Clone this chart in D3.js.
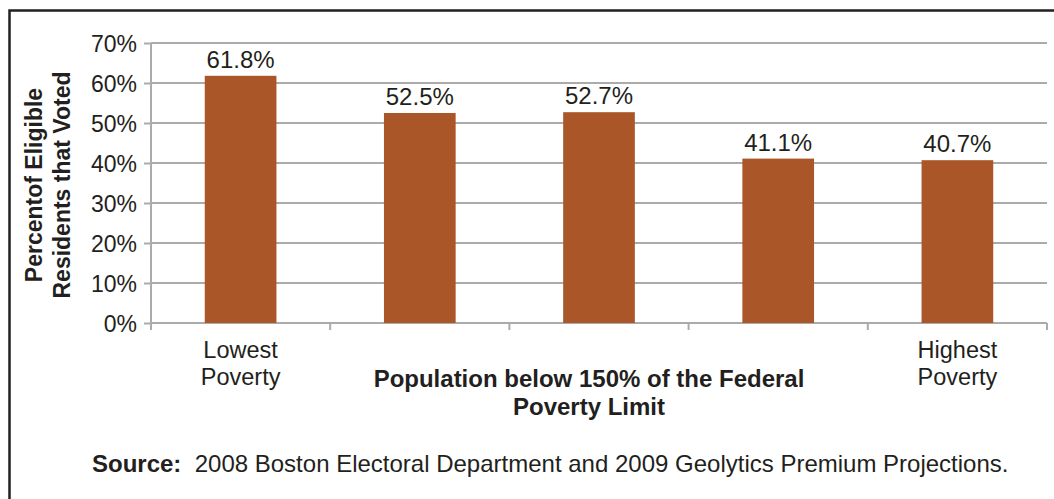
<!DOCTYPE html>
<html><head><meta charset="utf-8">
<script src="https://cdn.jsdelivr.net/npm/d3@7"></script>
<style>body{margin:0;background:#fff}svg{display:block}text{font-family:"Liberation Sans",Arial,sans-serif;fill:#231f20}</style>
</head><body>
<svg id="c" width="1054" height="499"></svg>
<script>
const categories = ["Lowest Poverty", "Q2", "Q3", "Q4", "Highest Poverty"];
const categoryLabels = [["Lowest","Poverty"], [], [], [], ["Highest","Poverty"]];
const values = [61.8, 52.5, 52.7, 41.1, 40.7];
const yTicks = [0, 10, 20, 30, 40, 50, 60, 70];
const yTitle = ["Percentof Eligible", "Residents that Voted"];
const xTitle = ["Population below 150% of the Federal", "Poverty Limit"];
const sourceBold = "Source:";
const sourceText = "2008 Boston Electoral Department and 2009 Geolytics Premium Projections.";

const svg = d3.select("#c");
const pLeft = 151, pRight = 1047, pTop = 43, pBottom = 323;
const x = d3.scaleBand().domain(categories).range([pLeft, pRight]).paddingInner(0.6).paddingOuter(0.3);
const y = d3.scaleLinear().domain([0, 70]).range([pBottom, pTop]);

// frame
svg.append("path").attr("d", `M9.5,499 L9.5,10.5 L1054,10.5`).attr("fill","none").attr("stroke","#231f20").attr("stroke-width",2.5);

// gridlines
svg.append("g").selectAll("line").data(yTicks.filter(d=>d>0)).join("line")
  .attr("x1", pLeft).attr("x2", pRight).attr("y1", d=>y(d)).attr("y2", d=>y(d))
  .attr("stroke", "#ababab").attr("stroke-width", 2);

// y axis
const yAxis = svg.append("g").attr("transform", `translate(${pLeft},0)`)
  .call(d3.axisLeft(y).tickValues(yTicks).tickFormat(d=>d+"%").tickSize(7).tickPadding(7));
yAxis.select(".domain").attr("stroke","#ababab").attr("stroke-width",2).attr("d", `M0,${pTop}V${pBottom+5}`);
yAxis.selectAll(".tick line").attr("stroke","#ababab").attr("stroke-width",2);
yAxis.selectAll(".tick text").attr("font-size", 23).attr("fill","#231f20").attr("dy","0.35em");

// x axis with boundary ticks
const bounds = d3.range(categories.length + 1).map(i => pLeft + i * (pRight - pLeft) / categories.length);
svg.append("line").attr("x1", pLeft).attr("x2", pRight).attr("y1", pBottom).attr("y2", pBottom).attr("stroke","#ababab").attr("stroke-width",2);
svg.append("g").selectAll("line").data(bounds).join("line")
  .attr("x1", d=>d).attr("x2", d=>d).attr("y1", pBottom).attr("y2", pBottom+7)
  .attr("stroke","#ababab").attr("stroke-width",2);

// bars
svg.append("g").selectAll("rect").data(values).join("rect")
  .attr("x", (d,i)=>x(categories[i])).attr("width", x.bandwidth())
  .attr("y", d=>y(d)).attr("height", d=>y(0)-y(d)).attr("fill", "#ab5629");

// value labels
svg.append("g").selectAll("text").data(values).join("text")
  .attr("x", (d,i)=>x(categories[i]) + x.bandwidth()/2).attr("y", d=>y(d)-8)
  .attr("text-anchor","middle").attr("font-size", 24).text(d=>d.toFixed(1)+"%");

// category labels
categoryLabels.forEach((lines, i) => {
  const cx = x(categories[i]) + x.bandwidth()/2;
  lines.forEach((t, j) => {
    svg.append("text").attr("x", cx).attr("y", 358 + j*27).attr("text-anchor","middle").attr("font-size", 23.5).text(t);
  });
});

// y title
const yt = svg.append("text").attr("transform", "rotate(-90)").attr("font-weight","bold").attr("font-size", 23).attr("text-anchor","middle");
yTitle.forEach((t, j) => {
  yt.append("tspan").attr("x", -(pTop+pBottom)/2 - 2).attr("y", 42 + j*28).text(t);
});

// x title
xTitle.forEach((t, j) => {
  svg.append("text").attr("x", 589).attr("y", 387 + j*28).attr("text-anchor","middle").attr("font-weight","bold").attr("font-size", 24).text(t);
});

// source
const st = svg.append("text").attr("x", 92).attr("y", 472).attr("font-size", 24);
st.append("tspan").attr("font-weight","bold").text(sourceBold);
st.append("tspan").text("\u00a0\u00a0" + sourceText);
</script>
</body></html>
